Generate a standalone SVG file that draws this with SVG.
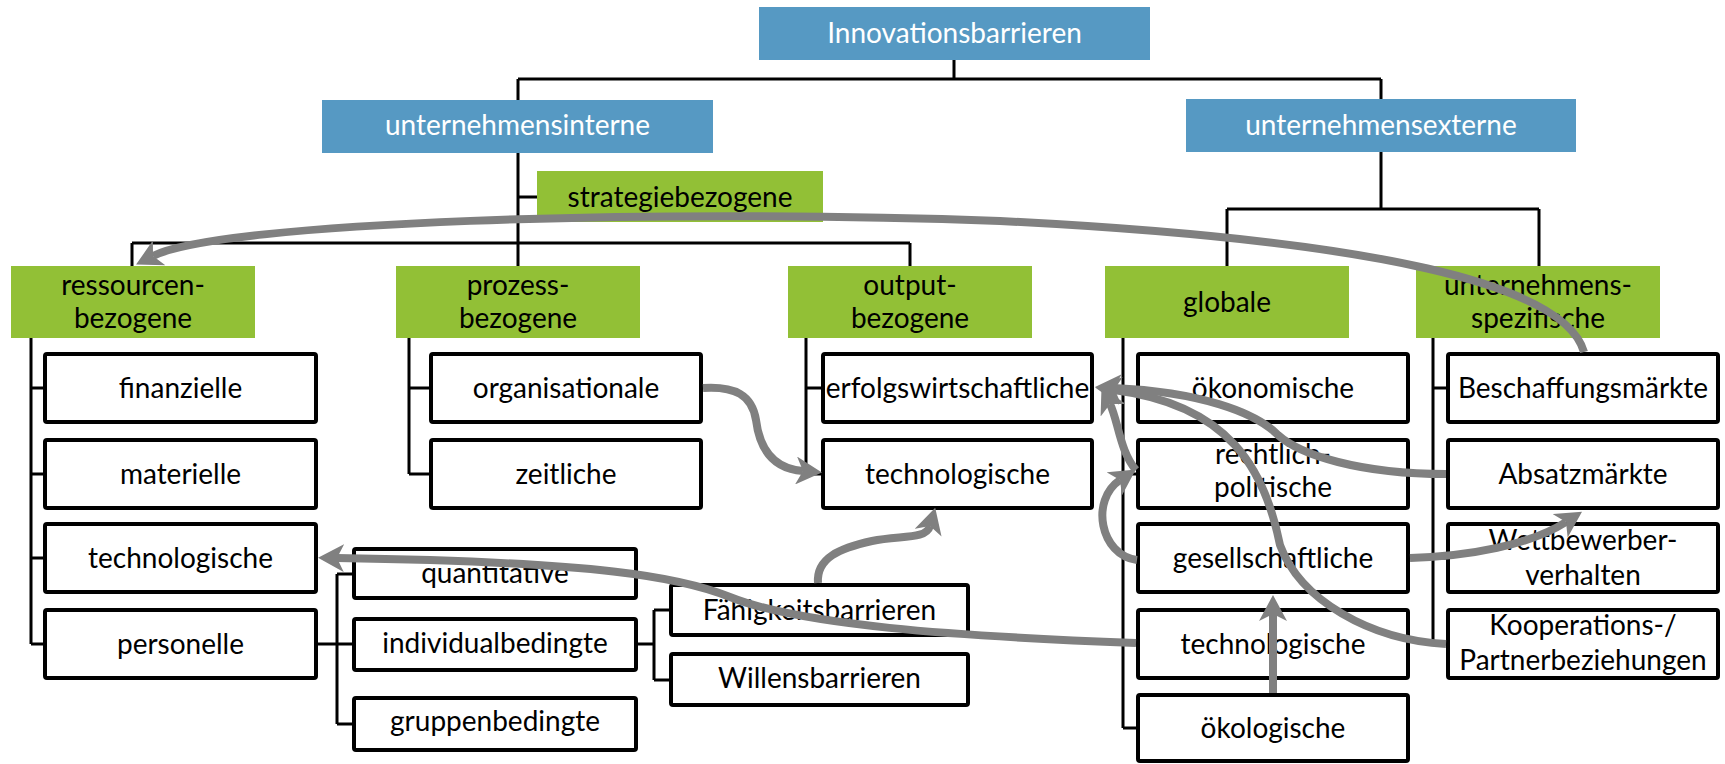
<svg xmlns="http://www.w3.org/2000/svg" width="1725" height="764" viewBox="0 0 1725 764">
<defs>
<style>
.blue{fill:#5699C3}
.green{fill:#92C036}
.wb{fill:#fff;stroke:#000;stroke-width:4}
.t{font-family:Lato,"Open Sans",sans-serif;font-size:28px;fill:#000;text-anchor:middle}
.tw{font-family:Lato,"Open Sans",sans-serif;font-size:28px;fill:#fff;text-anchor:middle}
.tree{fill:none;stroke:#000;stroke-width:3}
.arr{fill:none;stroke:#808080;stroke-width:8;marker-end:url(#ah)}
</style>
<marker id="ah" markerUnits="userSpaceOnUse" markerWidth="26" markerHeight="28" viewBox="0 0 26 28" refX="7" refY="14" orient="auto">
<path d="M26,14 L0,0 L7,14 L0,28 Z" fill="#808080"/>
</marker>
</defs>
<rect width="1725" height="764" fill="#fff"/>
<g id="tree-connectors" class="tree">
<path d="M954,60 V79 M518,79 H1381 M518,79 V100 M1381,79 V99"/>
<path d="M518,153 V266 M518,197 H537 M132,243 H910 M132,243 V266 M910,243 V266"/>
<path d="M1381,152 V209 M1227,209 H1539 M1227,209 V266 M1539,209 V266"/>
<path d="M31,338 V644 M31,388 H43 M31,474 H43 M31,558 H43 M31,644 H43"/>
<path d="M409,338 V474 M409,388 H429 M409,474 H429"/>
<path d="M318,644 H337 M337,574 V724 M337,574 H352 M337,644 H352 M337,724 H352"/>
<path d="M638,644 H654 M654,610 V680 M654,610 H669 M654,680 H669"/>
<path d="M806,338 V474 M806,388 H821 M806,474 H821"/>
<path d="M1123,338 V728 M1123,388 H1136 M1123,474 H1136 M1123,558 H1136 M1123,644 H1136 M1123,728 H1136"/>
<path d="M1433,338 V644 M1433,388 H1446 M1433,474 H1446 M1433,558 H1446 M1433,644 H1446"/>
</g>
<g id="n-innovationsbarrieren"><rect class="blue" x="759" y="7" width="391" height="53"/><text class="tw" x="954.5" y="43">Innovationsbarrieren</text></g>
<g id="n-interne"><rect class="blue" x="322" y="100" width="391" height="53"/><text class="tw" x="517.5" y="135">unternehmensinterne</text></g>
<g id="n-externe"><rect class="blue" x="1186" y="99" width="390" height="53"/><text class="tw" x="1381" y="135">unternehmensexterne</text></g>
<g id="n-strategie"><rect class="green" x="537" y="171" width="286" height="51"/><text class="t" x="680" y="207">strategiebezogene</text></g>
<g id="n-ressourcen"><rect class="green" x="11" y="266" width="244" height="72"/><text class="t" x="133" y="295">ressourcen-</text><text class="t" x="133" y="328">bezogene</text></g>
<g id="n-prozess"><rect class="green" x="396" y="266" width="244" height="72"/><text class="t" x="518" y="295">prozess-</text><text class="t" x="518" y="328">bezogene</text></g>
<g id="n-output"><rect class="green" x="788" y="266" width="244" height="72"/><text class="t" x="910" y="295">output-</text><text class="t" x="910" y="328">bezogene</text></g>
<g id="n-globale"><rect class="green" x="1105" y="266" width="244" height="72"/><text class="t" x="1227" y="312">globale</text></g>
<g id="n-spezifische"><rect class="green" x="1416" y="266" width="244" height="72"/><text class="t" x="1538" y="295">unternehmens-</text><text class="t" x="1538" y="328">spezifische</text></g>
<g id="n-finanzielle"><rect class="wb" x="45" y="354" width="271" height="68" rx="2"/><text class="t" x="180.5" y="398">finanzielle</text></g>
<g id="n-materielle"><rect class="wb" x="45" y="440" width="271" height="68" rx="2"/><text class="t" x="180.5" y="484">materielle</text></g>
<g id="n-technologische-r"><rect class="wb" x="45" y="524" width="271" height="68" rx="2"/><text class="t" x="180.5" y="568">technologische</text></g>
<g id="n-personelle"><rect class="wb" x="45" y="610" width="271" height="68" rx="2"/><text class="t" x="180.5" y="654">personelle</text></g>
<g id="n-organisationale"><rect class="wb" x="431" y="354" width="270" height="68" rx="2"/><text class="t" x="566" y="398">organisationale</text></g>
<g id="n-zeitliche"><rect class="wb" x="431" y="440" width="270" height="68" rx="2"/><text class="t" x="566" y="484">zeitliche</text></g>
<g id="n-quantitative"><rect class="wb" x="354" y="549" width="282" height="49" rx="2"/><text class="t" x="495" y="583">quantitative</text></g>
<g id="n-individualbedingte"><rect class="wb" x="354" y="619" width="282" height="51" rx="2"/><text class="t" x="495" y="653">individualbedingte</text></g>
<g id="n-gruppenbedingte"><rect class="wb" x="354" y="698" width="282" height="52" rx="2"/><text class="t" x="495" y="731">gruppenbedingte</text></g>
<g id="n-faehigkeit"><rect class="wb" x="671" y="585" width="297" height="50" rx="2"/><text class="t" x="819.5" y="620">Fähigkeitsbarrieren</text></g>
<g id="n-willen"><rect class="wb" x="671" y="654" width="297" height="51" rx="2"/><text class="t" x="819.5" y="688">Willensbarrieren</text></g>
<g id="n-erfolg"><rect class="wb" x="823" y="354" width="269" height="68" rx="2"/><text class="t" x="957.5" y="398">erfolgswirtschaftliche</text></g>
<g id="n-technologische-o"><rect class="wb" x="823" y="440" width="269" height="68" rx="2"/><text class="t" x="957.5" y="484">technologische</text></g>
<g id="n-oekonomische"><rect class="wb" x="1138" y="354" width="270" height="68" rx="2"/><text class="t" x="1273" y="398">ökonomische</text></g>
<g id="n-rechtlich"><rect class="wb" x="1138" y="440" width="270" height="68" rx="2"/><text class="t" x="1273" y="464">rechtlich-</text><text class="t" x="1273" y="497">politische</text></g>
<g id="n-gesellschaftliche"><rect class="wb" x="1138" y="524" width="270" height="68" rx="2"/><text class="t" x="1273" y="568">gesellschaftliche</text></g>
<g id="n-technologische-g"><rect class="wb" x="1138" y="610" width="270" height="68" rx="2"/><text class="t" x="1273" y="654">technologische</text></g>
<g id="n-oekologische"><rect class="wb" x="1138" y="695" width="270" height="66" rx="2"/><text class="t" x="1273" y="738">ökologische</text></g>
<g id="n-beschaffung"><rect class="wb" x="1448" y="354" width="270" height="68" rx="2"/><text class="t" x="1583" y="398">Beschaffungsmärkte</text></g>
<g id="n-absatz"><rect class="wb" x="1448" y="440" width="270" height="68" rx="2"/><text class="t" x="1583" y="484">Absatzmärkte</text></g>
<g id="n-wettbewerber"><rect class="wb" x="1448" y="524" width="270" height="68" rx="2"/><text class="t" x="1583" y="550">Wettbewerber-</text><text class="t" x="1583" y="585">verhalten</text></g>
<g id="n-kooperation"><rect class="wb" x="1448" y="610" width="270" height="68" rx="2"/><text class="t" x="1583" y="635">Kooperations-/</text><text class="t" x="1583" y="670">Partnerbeziehungen</text></g>
<g id="arrows" class="arr">
<path d="M1584,352 C1565,285 1380,240 1000,221 C650,208 220,222 153,256"/>
<path d="M703,388 C735,386 752,395 756,420 C760,452 776,469 803,471"/>
<path d="M818,583 C816,558 840,548 872,541 C900,535 926,540 930,526"/>
<path d="M1136,643 C950,636 800,625 730,597 C680,577 600,562 337,558"/>
<path d="M1137,560 C1100,555 1090,500 1120,480"/>
<path d="M1136,470 C1120,452 1118,420 1110,404"/>
<path d="M1446,474 C1360,474 1300,455 1278,435 C1255,412 1200,392 1114,388"/>
<path d="M1446,644 C1370,640 1300,600 1280,545 C1265,470 1230,405 1114,390"/>
<path d="M1410,558 C1470,556 1530,545 1566,522"/>
<path d="M1273,693 L1273,614"/>
</g>
</svg>
